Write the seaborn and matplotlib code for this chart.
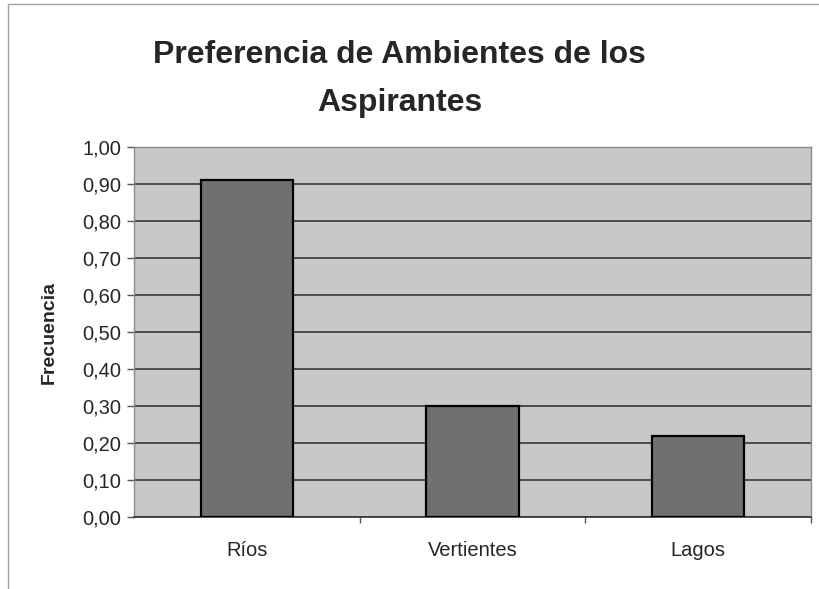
import matplotlib
matplotlib.use("Agg")
import matplotlib.pyplot as plt
import seaborn as sns
import pandas as pd
from matplotlib.patches import Rectangle

#----- data -----
categorias = ["Ríos", "Vertientes", "Lagos"]
frecuencias = [0.91, 0.30, 0.22]
y_ticks = [0.0, 0.1, 0.2, 0.3, 0.4, 0.5, 0.6, 0.7, 0.8, 0.9, 1.0]
y_tick_labels = ["0,00", "0,10", "0,20", "0,30", "0,40", "0,50",
                 "0,60", "0,70", "0,80", "0,90", "1,00"]
titulo = "Preferencia de Ambientes de los\nAspirantes"

df = pd.DataFrame({"Ambiente": categorias, "Frecuencia": frecuencias})

sns.set_style("white")
plt.rcParams['font.family'] = ['Liberation Sans', 'DejaVu Sans']

fig = plt.figure(figsize=(8.2, 5.89), dpi=100)
ax = fig.add_axes([0.1634, 0.1222, 0.8256, 0.6282])
ax.set_facecolor("#c8c8c8")

sns.barplot(data=df, x="Ambiente", y="Frecuencia", color="#707070",
            saturation=1, width=0.41, edgecolor="black", linewidth=1.6,
            ax=ax, zorder=3)

ax.set_xlim(-0.5, 2.5)
ax.set_ylim(0, 1.0)
ax.set_yticks(y_ticks)
ax.set_yticklabels(y_tick_labels)
ax.yaxis.grid(True, color="#2a2a2a", linewidth=1.1, zorder=1)
ax.set_axisbelow(True)

# category boundaries get the small tick marks, labels sit in the middle
ax.set_xticks([0.5, 1.5, 2.5], minor=True)
ax.tick_params(axis="x", which="minor", length=4, width=1, color="#555555",
               direction="out", bottom=True)
ax.tick_params(axis="x", which="major", length=0, pad=17, labelsize=14.5)
ax.tick_params(axis="y", length=5, width=1, color="#555555", direction="out",
               left=True, pad=4, labelsize=14.5)

for side in ["top", "right", "left"]:
    ax.spines[side].set_color("#8a8a8a")
    ax.spines[side].set_linewidth(1.0)
ax.spines["bottom"].set_color("#333333")
ax.spines["bottom"].set_linewidth(1.2)

ax.set_xlabel("")
ax.set_ylabel("Frecuencia", fontsize=14, fontweight="bold", labelpad=18)

fig.text(0.487, 0.866, titulo, ha="center", va="center", fontsize=23,
         fontweight="bold", linespacing=1.8)

# thin outer frame of the chart area
fig.patches.append(Rectangle((8 / 820, -0.02), 1.0, 1.0 - 4 / 589 + 0.02,
                             transform=fig.transFigure, fill=False,
                             edgecolor="#a0a0a0", linewidth=1.0))

fig.savefig("out.png", dpi=100, facecolor="white")
